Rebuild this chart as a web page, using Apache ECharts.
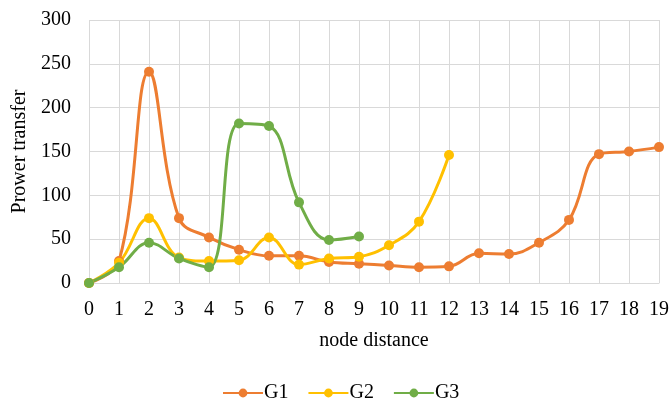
<!DOCTYPE html>
<html>
<head>
<meta charset="utf-8">
<script src="https://cdn.jsdelivr.net/npm/echarts@6/dist/echarts.min.js"></script>
<style>html,body{margin:0;padding:0;background:#fff;}#c{width:672px;height:404px;}</style>
</head>
<body>
<div id="c"></div>
<script>
const categories = ['0','1','2','3','4','5','6','7','8','9','10','11','12','13','14','15','16','17','18','19'];
const g1 = [0, 25, 241, 74, 52, 38, 31, 31, 24, 22, 20, 18, 19, 34, 33, 46, 72, 147, 150, 155];
const g2 = [0, 23, 74, 29, 25, 26, 52, 21, 28, 30, 43, 70, 146];
const g3 = [0, 18, 46, 28, 18, 182, 179, 92, 49, 53];
const seriesNames = ['G1', 'G2', 'G3'];
const colors = ['#ED7D31', '#FFC000', '#70AD47'];
const font = 'Liberation Serif';

const chart = echarts.init(document.getElementById('c'));
const mk = (name, data, color) => ({
  name, type: 'line', data, smooth: 0.4,
  symbol: 'circle', symbolSize: 10,
  itemStyle: { color },
  lineStyle: { color, width: 3 },
  z: 2
});
chart.setOption({
  animation: false,
  grid: { left: 89, right: 13, top: 20, bottom: 121 },
  xAxis: {
    type: 'category', data: categories, boundaryGap: false,
    name: 'node distance', nameLocation: 'middle', nameGap: 48,
    nameTextStyle: { fontFamily: font, fontSize: 20, color: '#000' },
    axisLine: { lineStyle: { color: '#D9D9D9', width: 1 } },
    axisTick: { show: false },
    axisLabel: { fontFamily: font, fontSize: 20, color: '#000', margin: 17, interval: 0 },
    splitLine: { show: true, lineStyle: { color: '#D9D9D9', width: 1 } }
  },
  yAxis: {
    type: 'value', min: 0, max: 300, interval: 50,
    name: 'Prower transfer', nameLocation: 'middle', nameGap: 55,
    nameTextStyle: { fontFamily: font, fontSize: 20, color: '#000' },
    axisLine: { show: false },
    axisTick: { show: false },
    axisLabel: { fontFamily: font, fontSize: 20, color: '#000', margin: 18 },
    splitLine: { show: true, lineStyle: { color: '#D9D9D9', width: 1 } }
  },
  legend: {
    bottom: 1, left: 222, padding: 0,
    itemWidth: 40, itemHeight: 11, itemGap: 19,
    textStyle: { fontFamily: font, fontSize: 20, color: '#000', padding: [0, 0, 0, -4] },
    data: seriesNames
  },
  series: [
    mk(seriesNames[0], g1, colors[0]),
    mk(seriesNames[1], g2, colors[1]),
    mk(seriesNames[2], g3, colors[2])
  ]
});
</script>
</body>
</html>
